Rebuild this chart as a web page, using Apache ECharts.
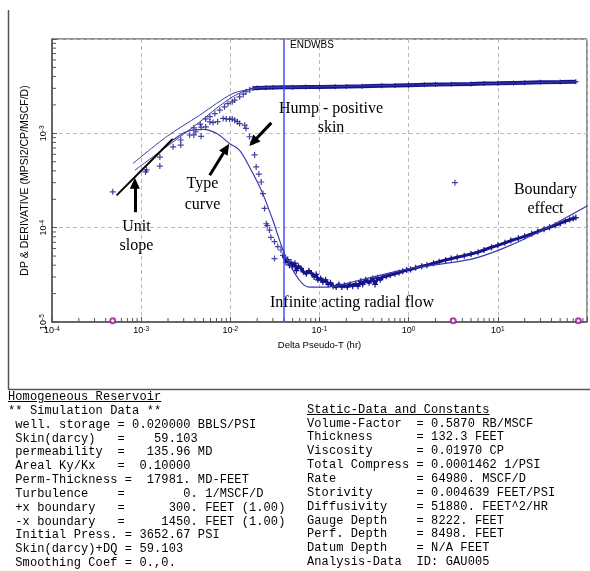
<!DOCTYPE html>
<html>
<head>
<meta charset="utf-8">
<script src="https://cdn.jsdelivr.net/npm/echarts@6/dist/echarts.min.js"></script>
<style>
  html, body { margin: 0; padding: 0; background: #fff; }
  #wrap { position: relative; width: 590px; height: 571px; overflow: hidden; }
  #chart { position: absolute; left: 0; top: 0; width: 590px; height: 571px; }
  .panel {
    position: absolute; margin: 0;
    font-family: "Liberation Mono", "Courier New", monospace;
    font-size: 12px; letter-spacing: 0.1px; line-height: 13.85px;
    color: #000; white-space: pre;
  }
  .panel .ul { text-decoration: underline; }
</style>
</head>
<body>
<div id="wrap">
  <div id="chart"></div>
  <pre class="panel" id="leftPanel" style="left:8px; top:391px;"></pre>
  <pre class="panel" id="rightPanel" style="left:307px; top:403.8px;"></pre>
</div>
<script>
// ---- data (x = Delta Pseudo-T hr, y = DP / derivative) ----
var endWbsTime = 0.0427;

// pressure change points, sparse early part and dense plateau
var pressEarly = [
  [3.9e-3, 1.14e-3], [4.6e-3, 1.25e-3], [5.3e-3, 1.42e-3], [5.9e-3, 1.5e-3],
  [6.7e-3, 1.62e-3], [7.6e-3, 1.76e-3], [8.6e-3, 1.91e-3], [9.4e-3, 2.07e-3],
  [1.05e-2, 2.16e-3], [1.12e-2, 2.25e-3], [1.27e-2, 2.44e-3], [1.4e-2, 2.6e-3],
  [1.5e-2, 2.76e-3], [1.65e-2, 2.88e-3]
];
var pressLate = [
  [0.018, 3.0e-3], [0.02, 3.02e-3], [0.025, 3.05e-3], [0.03, 3.07e-3], [0.04, 3.08e-3],
  [0.05, 3.08e-3], [0.07, 3.09e-3], [0.1, 3.1e-3], [0.15, 3.12e-3], [0.2, 3.13e-3],
  [0.3, 3.15e-3], [0.5, 3.19e-3], [0.7, 3.21e-3], [1, 3.24e-3], [1.5, 3.27e-3],
  [2, 3.29e-3], [3, 3.31e-3], [5, 3.34e-3], [7, 3.37e-3], [10, 3.39e-3],
  [15, 3.42e-3], [20, 3.44e-3], [30, 3.47e-3], [50, 3.5e-3], [75, 3.53e-3]
];

// derivative points
var derivEarly = [
  [4.8e-4, 2.4e-4], [1.12e-3, 3.9e-4], [1.15e-3, 4.1e-4], [1.62e-3, 4.5e-4],
  [1.62e-3, 5.6e-4], [2.28e-3, 7.2e-4], [2.78e-3, 8.5e-4], [2.78e-3, 7.5e-4],
  [3.5e-3, 9.6e-4], [3.9e-3, 9.6e-4], [4.7e-3, 9.3e-4], [4.1e-3, 1.04e-3],
  [4.7e-3, 1.16e-3], [5.3e-3, 1.17e-3], [5.9e-3, 1.32e-3], [6.4e-3, 1.3e-3],
  [7.2e-3, 1.33e-3], [8.3e-3, 1.44e-3], [9.0e-3, 1.42e-3], [9.8e-3, 1.41e-3],
  [1.05e-2, 1.42e-3], [1.12e-2, 1.38e-3], [1.2e-2, 1.33e-3], [1.27e-2, 1.27e-3],
  [1.45e-2, 1.22e-3], [1.5e-2, 1.13e-3], [1.64e-2, 9.2e-4], [1.79e-2, 8.1e-4],
  [1.87e-2, 5.9e-4], [1.95e-2, 4.4e-4], [2.09e-2, 3.7e-4], [2.22e-2, 3.05e-4],
  [2.32e-2, 2.3e-4], [2.42e-2, 1.6e-4], [2.53e-2, 1.1e-4], [2.6e-2, 1.05e-4],
  [2.75e-2, 9.4e-5], [2.85e-2, 7.9e-5], [3.13e-2, 7.1e-5], [3.13e-2, 4.7e-5],
  [3.41e-2, 6.3e-5], [3.7e-2, 5.8e-5], [3.3, 3.0e-4]
];
var derivLate = [
  [0.039, 5.1e-5], [0.042, 4.3e-5], [0.044, 4.6e-5], [0.046, 4.0e-5], [0.048, 4.3e-5],
  [0.05, 3.9e-5], [0.053, 4.2e-5], [0.055, 3.5e-5], [0.058, 3.9e-5], [0.062, 3.7e-5],
  [0.066, 3.4e-5], [0.071, 3.25e-5], [0.076, 3.5e-5], [0.081, 3.3e-5], [0.087, 3.0e-5],
  [0.092, 3.2e-5], [0.096, 2.8e-5], [0.103, 2.9e-5], [0.109, 2.65e-5], [0.117, 2.8e-5],
  [0.125, 2.5e-5], [0.133, 2.6e-5], [0.142, 2.4e-5], [0.154, 2.35e-5], [0.165, 2.5e-5],
  [0.178, 2.35e-5], [0.19, 2.45e-5], [0.205, 2.35e-5], [0.22, 2.5e-5], [0.236, 2.4e-5],
  [0.255, 2.55e-5], [0.27, 2.4e-5], [0.29, 2.7e-5], [0.305, 2.5e-5], [0.33, 2.8e-5],
  [0.36, 2.6e-5], [0.395, 2.9e-5], [0.42, 2.5e-5], [0.45, 2.95e-5], [0.48, 2.8e-5],
  [0.51, 3.0e-5], [0.56, 3.05e-5], [0.62, 3.15e-5], [0.7, 3.25e-5], [0.78, 3.35e-5],
  [0.86, 3.45e-5], [0.95, 3.55e-5], [1.05, 3.6e-5], [1.2, 3.75e-5], [1.4, 3.9e-5],
  [1.6, 4.0e-5], [1.9, 4.2e-5], [2.2, 4.35e-5], [2.6, 4.55e-5], [3.0, 4.7e-5],
  [3.5, 4.85e-5], [4.2, 5.05e-5], [5.0, 5.25e-5], [6.0, 5.5e-5], [7.0, 5.8e-5],
  [8.5, 6.2e-5], [10, 6.5e-5], [12, 6.9e-5], [14, 7.3e-5], [17, 7.7e-5],
  [20, 8.1e-5], [24, 8.6e-5], [28, 9.1e-5], [33, 9.6e-5], [38, 1.01e-4],
  [44, 1.06e-4], [50, 1.11e-4], [57, 1.17e-4], [64, 1.22e-4], [70, 1.25e-4], [75, 1.28e-4]
];

// model (type) curves
var modelPressA = [
  [8.1e-4, 4.8e-4], [1.92e-3, 9.2e-4], [4.54e-3, 1.56e-3], [6.98e-3, 2.07e-3],
  [1.07e-2, 2.65e-3], [1.51e-2, 2.88e-3], [2.32e-2, 3.07e-3], [0.046, 3.08e-3],
  [1, 3.25e-3], [10, 3.39e-3], [80, 3.52e-3]
];
var modelPressB = [
  [8.5e-4, 4.07e-4], [1.92e-3, 7.2e-4], [4.54e-3, 1.32e-3], [6.98e-3, 1.84e-3],
  [1.07e-2, 2.45e-3], [1.65e-2, 2.95e-3], [2.5e-2, 3.06e-3], [0.05, 3.08e-3]
];
var modelDeriv = [
  [2.28e-3, 8.5e-4], [3.21e-3, 1.04e-3], [4.94e-3, 1.1e-3], [6.98e-3, 1.0e-3],
  [9.8e-3, 7.8e-4], [1.27e-2, 6.6e-4], [1.64e-2, 4.4e-4], [2.22e-2, 2.5e-4],
  [3.0e-2, 1.2e-4], [4.05e-2, 5.3e-5], [5.97e-2, 2.77e-5], [7.7e-2, 2.34e-5],
  [0.119, 2.34e-5], [0.258, 2.72e-5], [1.02, 3.68e-5], [4.78, 4.58e-5],
  [11.3, 6.0e-5], [31.6, 9.4e-5], [100, 1.7e-4]
];
var unitSlope = [[5.3e-4, 2.2e-4], [2.26e-3, 8.7e-4]];
var flagPoints = [[4.8e-4, 1.03e-5], [3.16, 1.03e-5], [80, 1.03e-5]];

// annotation arrows: [from, to] in data coords
var arrows = [
  [[8.5e-4, 1.46e-4], [8.5e-4, 2.96e-4]],
  [[5.87e-3, 3.6e-4], [9.0e-3, 6.9e-4]],
  [[2.88e-2, 1.29e-3], [1.8e-2, 8.1e-4]]
];

var leftLines = [
  " well. storage = 0.020000 BBLS/PSI",
  " Skin(darcy)   =    59.103",
  " permeability  =   135.96 MD",
  " Areal Ky/Kx   =  0.10000",
  " Perm-Thickness =  17981. MD-FEET",
  " Turbulence    =        0. 1/MSCF/D",
  " +x boundary   =      300. FEET (1.00)",
  " -x boundary   =     1450. FEET (1.00)",
  " Initial Press. = 3652.67 PSI",
  " Skin(darcy)+DQ = 59.103",
  " Smoothing Coef = 0.,0."
];
var rightLines = [
  "Volume-Factor  = 0.5870 RB/MSCF",
  "Thickness      = 132.3 FEET",
  "Viscosity      = 0.01970 CP",
  "Total Compress = 0.0001462 1/PSI",
  "Rate           = 64980. MSCF/D",
  "Storivity      = 0.004639 FEET/PSI",
  "Diffusivity    = 51880. FEET^2/HR",
  "Gauge Depth    = 8222. FEET",
  "Perf. Depth    = 8498. FEET",
  "Datum Depth    = N/A FEET",
  "Analysis-Data  ID: GAU005"
];

function esc(s) { return s.replace(/&/g, '&amp;').replace(/</g, '&lt;'); }
document.getElementById('leftPanel').innerHTML =
  '<span class="ul">Homogeneous Reservoir</span>\n** Simulation Data **\n' + leftLines.map(esc).join('\n');
document.getElementById('rightPanel').innerHTML =
  '<span class="ul">Static-Data and Constants</span>\n' + rightLines.map(esc).join('\n');

// minor tick positions 2..9 within each decade
var xMinor = [], yMinor = [];
for (var e = -4; e < 2; e++) for (var k = 2; k < 10; k++) xMinor.push(k * Math.pow(10, e));
for (var e2 = -5; e2 < -2; e2++) for (var k2 = 2; k2 < 10; k2++) yMinor.push(k2 * Math.pow(10, e2));

var navy = '#15158a';
var modelBlue = '#3a3aae';
var plus = 'path://M4,0H6V4H10V6H6V10H4V6H0V4H4Z';

function powLabel(maxExp) {
  return function (v) {
    var ex = Math.round(Math.log(v) / Math.LN10);
    if (ex >= maxExp) return '';
    return '{b|10}{s|' + ex + '}';
  };
}
var labelRich = {
  b: { fontSize: 9, fontFamily: 'Liberation Sans', color: '#000' },
  s: { fontSize: 6.5, fontFamily: 'Liberation Sans', color: '#000', verticalAlign: 'top' }
};

function tickItem(dir) {
  return function (params, api) {
    var p = api.coord([api.value(0), api.value(1)]);
    var shape = dir === 'x'
      ? { x1: p[0], y1: p[1], x2: p[0], y2: p[1] - 4 }
      : { x1: p[0], y1: p[1], x2: p[0] + 4, y2: p[1] };
    return { type: 'line', shape: shape, style: { stroke: '#555', lineWidth: 1 } };
  };
}

var chart = echarts.init(document.getElementById('chart'), null, { renderer: 'canvas' });
chart.setOption({
  backgroundColor: '#fff',
  animation: false,
  grid: { left: 52, top: 39, width: 536, height: 283, show: true, borderColor: '#222', borderWidth: 1 },
  xAxis: {
    type: 'log', logBase: 10, min: 1e-4, max: 100,
    name: 'Delta Pseudo-T (hr)', nameLocation: 'middle', nameGap: 18,
    nameTextStyle: { fontSize: 9.5, fontFamily: 'Liberation Sans', color: '#000' },
    axisLine: { lineStyle: { color: '#555', width: 1.5 } },
    axisTick: { inside: true, length: 5, lineStyle: { color: '#555' } },
    axisLabel: { formatter: powLabel(2), rich: labelRich, margin: 4 },
    splitLine: { show: true, lineStyle: { color: '#bbb', type: [4, 3], width: 1 } }
  },
  yAxis: {
    type: 'log', logBase: 10, min: 1e-5, max: 1e-2,
    name: 'DP & DERIVATIVE (MPSI2/CP/MSCF/D)', nameLocation: 'middle', nameGap: 20, nameRotate: 90,
    nameTextStyle: { fontSize: 10.5, fontFamily: 'Liberation Sans', color: '#000' },
    axisLine: { lineStyle: { color: '#555', width: 1.5 } },
    axisTick: { inside: true, length: 5, lineStyle: { color: '#555' } },
    axisLabel: { formatter: powLabel(-2), rich: labelRich, rotate: 90, margin: 4 },
    splitLine: { show: true, lineStyle: { color: '#bbb', type: [4, 3], width: 1 } }
  },
  series: [
    { type: 'custom', silent: true, clip: false, renderItem: tickItem('x'),
      data: xMinor.map(function (v) { return [v, 1e-5]; }), z: 3 },
    { type: 'custom', silent: true, clip: false, renderItem: tickItem('y'),
      data: yMinor.map(function (v) { return [1e-4, v]; }), z: 3 },
    { name: 'ENDWBS', type: 'line', data: [], silent: true,
      markLine: { silent: true, symbol: 'none', label: { show: false },
        lineStyle: { color: '#4d4dff', width: 1.5, type: 'solid' },
        data: [{ xAxis: endWbsTime }] }, z: 2 },
    { name: 'Pressure', type: 'scatter', data: pressEarly, symbol: plus, symbolSize: 6,
      itemStyle: { color: navy }, z: 4 },
    { name: 'Pressure dense', type: 'line', data: pressLate, symbol: plus, symbolSize: 5,
      showSymbol: true, lineStyle: { color: navy, width: 4 }, itemStyle: { color: navy }, z: 4 },
    { name: 'Derivative', type: 'scatter', data: derivEarly, symbol: plus, symbolSize: 6,
      itemStyle: { color: navy }, z: 4 },
    { name: 'Derivative dense', type: 'line', data: derivLate, symbol: plus, symbolSize: 6,
      showSymbol: true, lineStyle: { color: navy, width: 3 }, itemStyle: { color: navy }, z: 4 },
    { name: 'Model P A', type: 'line', data: modelPressA, smooth: 0.3, showSymbol: false,
      lineStyle: { color: modelBlue, width: 1 }, z: 5 },
    { name: 'Model P B', type: 'line', data: modelPressB, smooth: 0.3, showSymbol: false,
      lineStyle: { color: modelBlue, width: 1 }, z: 5 },
    { name: 'Type curve', type: 'line', data: modelDeriv, smooth: 0.3, showSymbol: false,
      lineStyle: { color: modelBlue, width: 1.2 }, z: 5 },
    { name: 'Unit slope', type: 'line', data: unitSlope, showSymbol: false,
      lineStyle: { color: '#000', width: 2 }, z: 6,
      markLine: { silent: true, symbol: ['none', 'triangle'], symbolSize: [10, 11],
        label: { show: false }, lineStyle: { color: '#000', width: 3, type: 'solid' },
        data: arrows.map(function (a) { return [{ coord: a[0] }, { coord: a[1] }]; }) } },
    { name: 'Flags', type: 'scatter', data: flagPoints, symbol: 'emptyCircle', symbolSize: 5,
      itemStyle: { color: '#a0109a', borderColor: '#a0109a', borderWidth: 1.5 }, z: 6 }
  ],
  graphic: [
    { type: 'line', shape: { x1: 8.5, y1: 10, x2: 8.5, y2: 389.5 }, style: { stroke: '#555', lineWidth: 1.5 } },
    { type: 'line', shape: { x1: 8, y1: 389.5, x2: 590, y2: 389.5 }, style: { stroke: '#555', lineWidth: 1.5 } },
    { type: 'text', left: 290, top: 40, z: 10,
      style: { text: 'ENDWBS', font: '10px "Liberation Sans"', fill: '#000' } },
    { type: 'text', x: 331, y: 118.5, z: 10,
      style: { text: 'Hump - positive\nskin', font: '16px "Liberation Serif"', fill: '#000',
        align: 'center', verticalAlign: 'middle', lineHeight: 19 } },
    { type: 'text', x: 202.5, y: 194.5, z: 10,
      style: { text: 'Type\ncurve', font: '16px "Liberation Serif"', fill: '#000',
        align: 'center', verticalAlign: 'middle', lineHeight: 21 } },
    { type: 'text', x: 136.5, y: 236.5, z: 10,
      style: { text: 'Unit\nslope', font: '16px "Liberation Serif"', fill: '#000',
        align: 'center', verticalAlign: 'middle', lineHeight: 19 } },
    { type: 'text', x: 352, y: 303, z: 10,
      style: { text: 'Infinite acting radial flow', font: '16px "Liberation Serif"', fill: '#000',
        align: 'center', verticalAlign: 'middle' } },
    { type: 'text', x: 545.5, y: 199.5, z: 10,
      style: { text: 'Boundary\neffect', font: '16px "Liberation Serif"', fill: '#000',
        align: 'center', verticalAlign: 'middle', lineHeight: 19 } }
  ]
});
</script>
</body>
</html>
